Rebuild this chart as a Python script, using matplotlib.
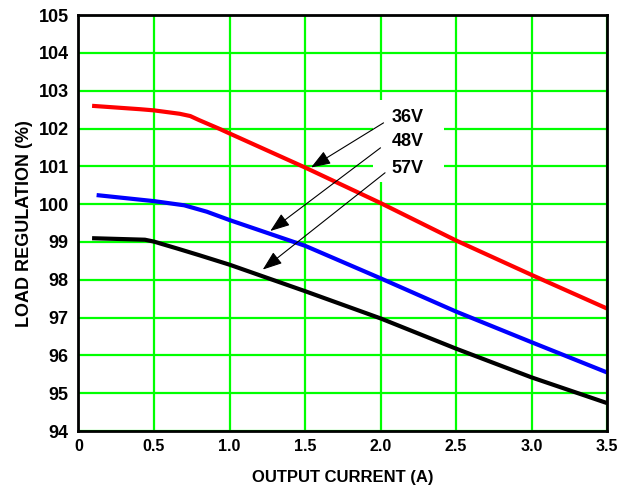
import numpy as np
import matplotlib.pyplot as plt
from matplotlib.patches import Rectangle

# output current (A) vs load regulation (%)
x_36 = [0.09, 0.41, 0.5, 0.67, 0.74, 0.80, 0.94, 1.0, 1.5, 2.0, 2.5, 3.0, 3.5]
y_36 = [102.60, 102.51, 102.48, 102.39, 102.33, 102.22, 101.98, 101.87,
        100.97, 100.03, 99.04, 98.13, 97.24]

x_48 = [0.12, 0.5, 0.7, 0.85, 1.0, 1.5, 2.0, 2.5, 3.0, 3.5]
y_48 = [100.24, 100.08, 99.97, 99.80, 99.58, 98.90, 98.04, 97.16, 96.35, 95.55]

x_57 = [0.09, 0.44, 0.5, 0.55, 0.66, 0.8, 1.0, 1.5, 2.0, 2.5, 3.0, 3.5]
y_57 = [99.10, 99.06, 99.01, 98.95, 98.82, 98.65, 98.40, 97.70, 96.98,
        96.18, 95.42, 94.74]

series_labels = ['36V', '48V', '57V']
series_colors = ['#ff0000', '#0000ff', '#000000']

xticks = [0, 0.5, 1.0, 1.5, 2.0, 2.5, 3.0, 3.5]
xtick_labels = ['0', '0.5', '1.0', '1.5', '2.0', '2.5', '3.0', '3.5']
yticks = list(range(94, 106))

# arrow tail / tip and label position for each series
arrow_tails = [(2.02, 102.15), (2.00, 101.49), (2.03, 100.83)]
arrow_tips = [(1.54, 100.97), (1.27, 99.29), (1.22, 98.27)]
label_pos = [(2.18, 102.30), (2.18, 101.65), (2.18, 100.94)]

plt.rcParams['font.family'] = ['Liberation Sans', 'DejaVu Sans']
plt.rcParams['font.weight'] = 'bold'

fig = plt.figure(figsize=(6.33, 4.86), dpi=100)
ax = fig.add_axes([0.124, 0.113, 0.835, 0.856])

ax.set_xlim(0, 3.5)
ax.set_ylim(94, 105)
ax.set_xticks(xticks)
ax.set_xticklabels(xtick_labels, fontsize=11.5, fontweight='bold')
ax.set_yticks(yticks)
ax.set_yticklabels([str(v) for v in yticks], fontsize=13, fontweight='bold')
ax.tick_params(length=0)
ax.tick_params(axis='y', pad=7)
ax.tick_params(axis='x', pad=6)
ax.grid(True, color='#00ff00', lw=1.6, zorder=0)
ax.set_axisbelow(True)
for s in ax.spines.values():
    s.set_linewidth(2)
    s.set_zorder(5)

# white box behind the labels
ax.add_patch(Rectangle((1.95, 100.58), 0.47, 2.17, facecolor='white',
                       edgecolor='none', zorder=1))

for xs, ys, c in zip([x_36, x_48, x_57], [y_36, y_48, y_57], series_colors):
    ax.plot(xs, ys, color=c, lw=3, zorder=3, solid_capstyle='butt',
            solid_joinstyle='round')

for lab, tail, tip, pos in zip(series_labels, arrow_tails, arrow_tips, label_pos):
    ax.annotate('', xy=tip, xytext=tail,
                arrowprops=dict(arrowstyle='-|>,head_length=0.6,head_width=0.22',
                                color='black', lw=0.8, mutation_scale=20,
                                shrinkA=0, shrinkB=0),
                zorder=4)
    ax.text(pos[0], pos[1], lab, fontsize=13, fontweight='bold',
            ha='center', va='center', zorder=4)

ax.set_xlabel('OUTPUT CURRENT (A)', fontsize=12, fontweight='bold', labelpad=11)
ax.set_ylabel('LOAD REGULATION (%)', fontsize=13, fontweight='bold', labelpad=4)

fig.savefig('out.png', dpi=100)
